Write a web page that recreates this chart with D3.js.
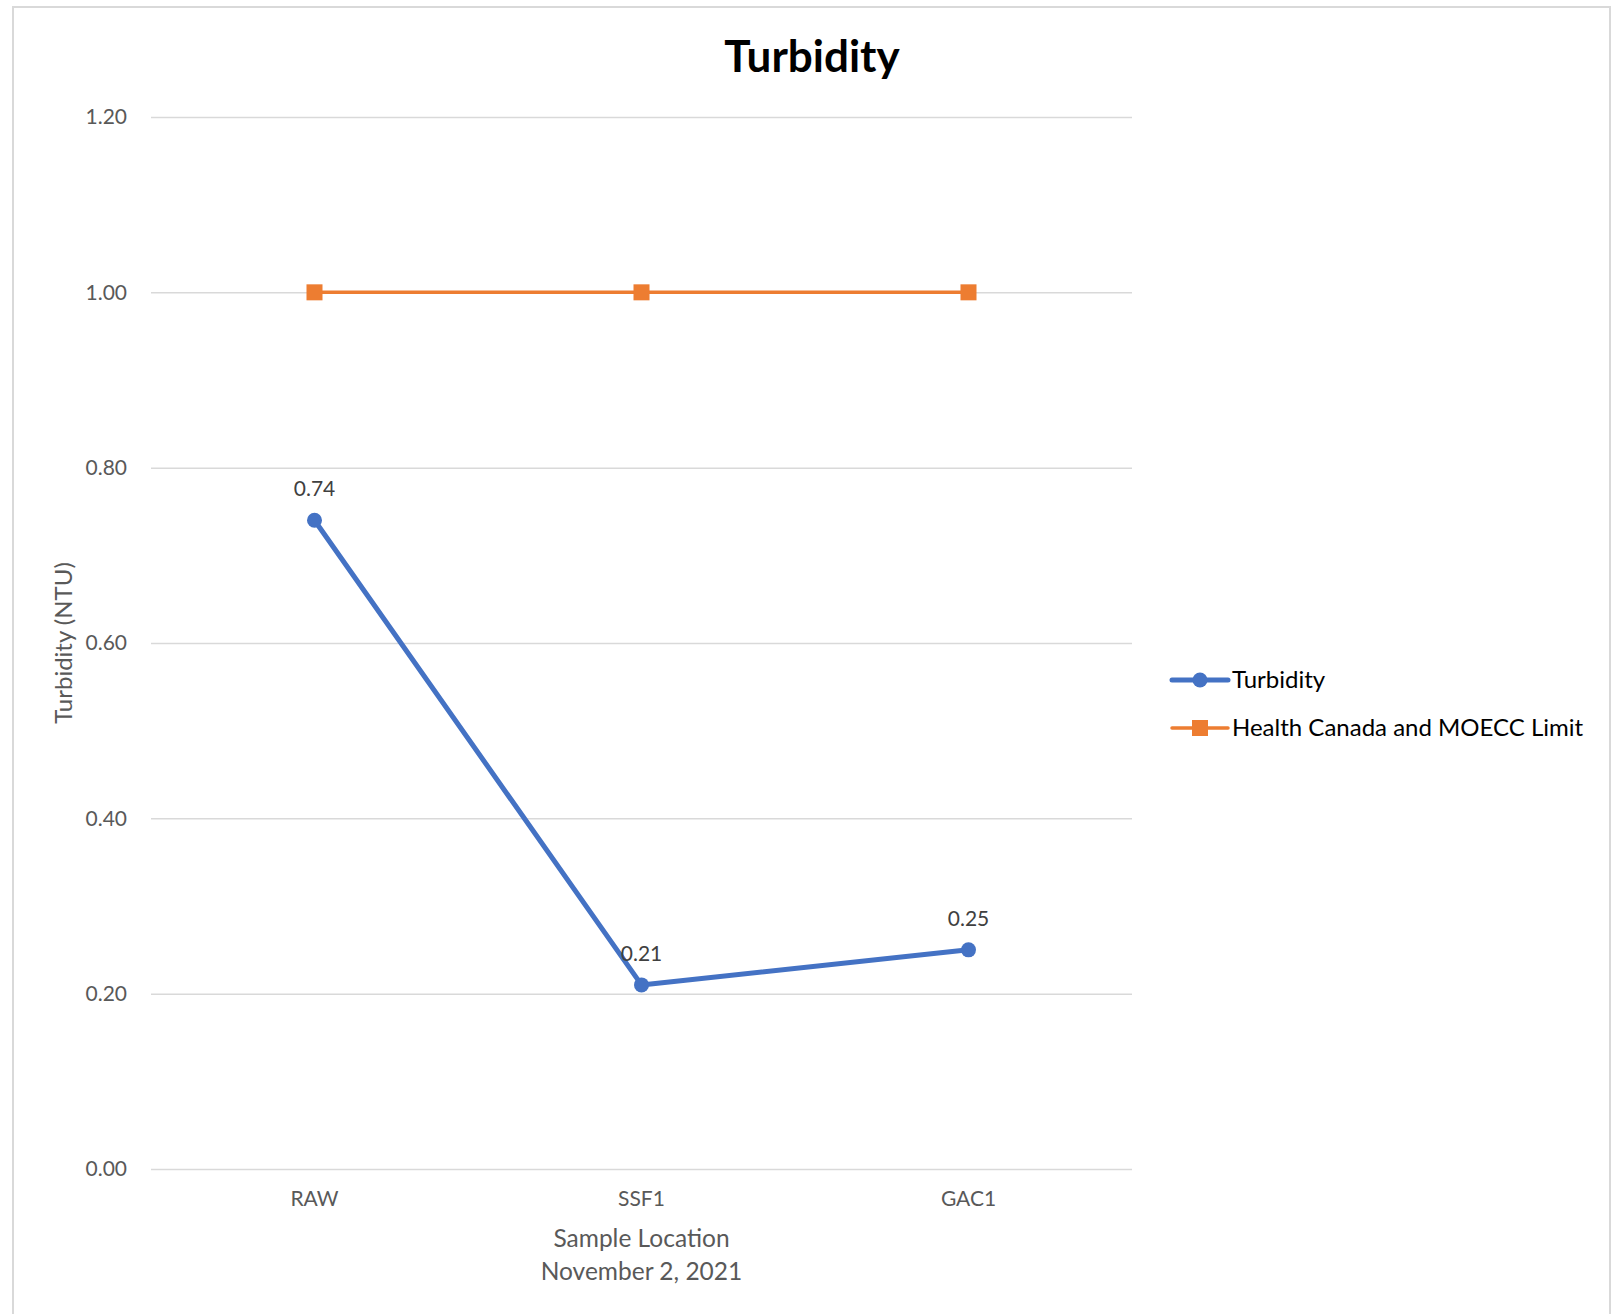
<!DOCTYPE html>
<html>
<head>
<meta charset="utf-8">
<script src="https://cdn.jsdelivr.net/npm/d3@7"></script>
<style>
  html, body { margin: 0; padding: 0; background: #fff; }
  svg { display: block; }
  text { font-family: Lato, "Open Sans", sans-serif; }
</style>
</head>
<body>
<svg id="chart" width="1618" height="1314"></svg>
<script>
// Sample locations along the treatment train
const categories = ["RAW", "SSF1", "GAC1"];
// Measured turbidity (NTU) at each location
const turbidity = [0.74, 0.21, 0.25];
// Regulatory limit (NTU)
const limitValues = [1.00, 1.00, 1.00];
const yTicks = [0, 0.2, 0.4, 0.6, 0.8, 1.0, 1.2];
const seriesNames = ["Turbidity", "Health Canada and MOECC Limit"];

const W = 1618, H = 1314;
const margin = { left: 151, right: W - 1132, top: 117, bottom: H - 1169 };
const svg = d3.select("#chart");

// Outer frame
svg.append("rect")
  .attr("x", 13).attr("y", 7)
  .attr("width", 1597).attr("height", 1320)
  .attr("fill", "#fff").attr("stroke", "#d9d9d9").attr("stroke-width", 2);

const x = d3.scaleBand().domain(categories)
  .range([margin.left, W - margin.right]);
const y = d3.scaleLinear().domain([0, 1.2])
  .range([H - margin.bottom, margin.top]);

// Horizontal gridlines and value labels
const yAxis = d3.axisLeft(y).tickValues(yTicks)
  .tickSize(-(W - margin.left - margin.right))
  .tickPadding(24)
  .tickFormat(d3.format(".2f"));
const gy = svg.append("g").attr("transform", `translate(${margin.left},0)`).call(yAxis);
gy.select(".domain").remove();
gy.selectAll(".tick line").attr("stroke", "#d9d9d9").attr("stroke-width", 1.5);
gy.selectAll(".tick text").attr("fill", "#595959").style("font-size", "21px")
  .style("font-family", "Lato, sans-serif");

// Category labels
const xAxis = d3.axisBottom(x).tickSize(0).tickPadding(22);
const gx = svg.append("g").attr("transform", `translate(0,${H - margin.bottom})`).call(xAxis);
gx.select(".domain").remove();
gx.selectAll(".tick text").attr("fill", "#595959").style("font-size", "21px")
  .style("font-family", "Lato, sans-serif");

const cx = d => x(d) + x.bandwidth() / 2;

// Limit series
const limitData = categories.map((c, i) => ({ c, v: limitValues[i] }));
svg.append("path").datum(limitData)
  .attr("fill", "none").attr("stroke", "#ED7D31").attr("stroke-width", 3.5)
  .attr("d", d3.line().x(d => cx(d.c)).y(d => y(d.v)));
svg.selectAll(".sq").data(limitData).join("rect")
  .attr("x", d => cx(d.c) - 8).attr("y", d => y(d.v) - 8)
  .attr("width", 16).attr("height", 16).attr("fill", "#ED7D31");

// Turbidity series
const turbData = categories.map((c, i) => ({ c, v: turbidity[i] }));
svg.append("path").datum(turbData)
  .attr("fill", "none").attr("stroke", "#4472C4").attr("stroke-width", 5)
  .attr("stroke-linejoin", "round")
  .attr("d", d3.line().x(d => cx(d.c)).y(d => y(d.v)));
svg.selectAll(".dot").data(turbData).join("circle")
  .attr("cx", d => cx(d.c)).attr("cy", d => y(d.v)).attr("r", 7.5)
  .attr("fill", "#4472C4");
svg.selectAll(".lbl").data(turbData).join("text")
  .attr("x", d => cx(d.c)).attr("y", d => y(d.v) - 24)
  .attr("text-anchor", "middle").attr("fill", "#404040")
  .style("font-size", "21px")
  .text(d => d3.format(".2f")(d.v));

// Title
svg.append("text").attr("x", 812).attr("y", 72)
  .attr("text-anchor", "middle").attr("fill", "#000")
  .style("font-size", "44px").style("font-weight", "bold")
  .text("Turbidity");

// Axis titles
svg.append("text")
  .attr("transform", `translate(72,${(y(0) + y(1.2)) / 2}) rotate(-90)`)
  .attr("text-anchor", "middle").attr("fill", "#595959")
  .style("font-size", "24px")
  .text("Turbidity (NTU)");
const xt = svg.append("text").attr("text-anchor", "middle").attr("fill", "#595959")
  .style("font-size", "24.5px");
xt.append("tspan").attr("x", (x.range()[0] + x.range()[1]) / 2).attr("y", 1247).text("Sample Location");
xt.append("tspan").attr("x", (x.range()[0] + x.range()[1]) / 2).attr("y", 1280).text("November 2, 2021");

// Legend
const legend = svg.append("g");
const colors = ["#4472C4", "#ED7D31"];
const widths = [5, 3.5];
seriesNames.forEach((name, i) => {
  const ly = 680 + i * 48;
  const g = legend.append("g");
  g.append("line").attr("x1", 1172).attr("x2", 1228).attr("y1", ly).attr("y2", ly)
    .attr("stroke", colors[i]).attr("stroke-width", widths[i]).attr("stroke-linecap", "round");
  if (i === 0) {
    g.append("circle").attr("cx", 1200).attr("cy", ly).attr("r", 7.5).attr("fill", colors[i]);
  } else {
    g.append("rect").attr("x", 1192).attr("y", ly - 8).attr("width", 16).attr("height", 16).attr("fill", colors[i]);
  }
  g.append("text").attr("x", 1232).attr("y", ly).attr("dy", "0.35em")
    .attr("fill", "#000").style("font-size", "24px").text(name);
});
</script>
</body>
</html>
